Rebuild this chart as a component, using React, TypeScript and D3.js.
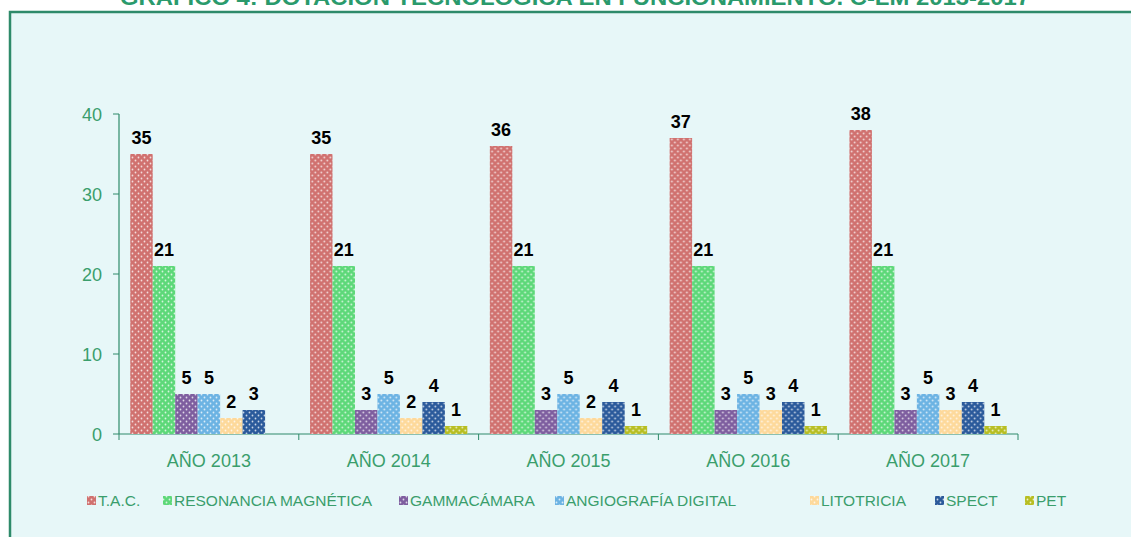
import React from "react";
import * as d3 from "d3";

const years = ["AÑO 2013", "AÑO 2014", "AÑO 2015", "AÑO 2016", "AÑO 2017"];
const seriesNames = ["T.A.C.", "RESONANCIA MAGNÉTICA", "GAMMACÁMARA", "ANGIOGRAFÍA DIGITAL", "LITOTRICIA", "SPECT", "PET"];
const tac = [35, 35, 36, 37, 38];
const resonancia = [21, 21, 21, 21, 21];
const gammacamara = [5, 3, 3, 3, 3];
const angiografia = [5, 5, 5, 5, 5];
const litotricia = [2, 2, 2, 3, 3];
const spect = [3, 4, 4, 4, 4];
const pet: (number | null)[] = [null, 1, 1, 1, 1];
const yTicks = [0, 10, 20, 30, 40];
const title = "GRÁFICO 4: DOTACIÓN TECNOLÓGICA EN FUNCIONAMIENTO. C-LM 2013-2017";

const seriesValues = [tac, resonancia, gammacamara, angiografia, litotricia, spect, pet];
const colors = ["#D0716F", "#5DD879", "#7E5E9F", "#6CB3E3", "#FDD99B", "#2B5A9B", "#B7BE22"];
const legendX = [87, 163, 399, 555, 810, 935, 1025];

const GREEN = "#3A9E6C";
const AXIS = "#2E8A6A";

export default function App() {
  const x0 = d3.scaleBand<string>().domain(years).range([119, 1018]).paddingInner(0).paddingOuter(0);
  const x1 = d3.scaleBand<string>().domain(seriesNames).range([0, x0.bandwidth()]).paddingInner(0).paddingOuter(0.5);
  const y = d3.scaleLinear().domain([0, 40]).range([434, 114]);
  const boundaries = years.map((yr) => x0(yr)!).concat([x0.range()[1]]);

  return (
    <svg width={1131} height={537} style={{ position: "absolute", left: 0, top: 0 }} fontFamily="Liberation Sans, Arial, sans-serif">
      <defs>
        {colors.map((c, i) => (
          <pattern key={i} id={`pat${i}`} width={6} height={6} patternUnits="userSpaceOnUse">
            <rect width={6} height={6} fill={c} />
            <circle cx={1.5} cy={1.5} r={0.9} fill="#fff" opacity={0.75} />
            <circle cx={4.5} cy={4.5} r={0.9} fill="#fff" opacity={0.75} />
          </pattern>
        ))}
      </defs>
      <rect x={0} y={0} width={1131} height={537} fill="#fff" />
      <rect x={10} y={12} width={1200} height={600} fill="#E7F7F8" stroke={AXIS} strokeWidth={2.5} />
      <text x={575} y={5} textAnchor="middle" fontWeight="bold" fontSize={22} fill="#2A9A6C" textLength={910} lengthAdjust="spacingAndGlyphs">
        {title}
      </text>

      {/* Y axis */}
      <line x1={119} x2={119} y1={y(40)} y2={y(0)} stroke={AXIS} strokeWidth={1.2} />
      {yTicks.map((t) => (
        <g key={t}>
          <line x1={113} x2={119} y1={y(t)} y2={y(t)} stroke={AXIS} strokeWidth={1} />
          <text x={102} y={y(t) + 6.5} textAnchor="end" fontSize={18} fill={GREEN}>{t}</text>
        </g>
      ))}

      {/* X axis */}
      <line x1={119} x2={1018} y1={y(0)} y2={y(0)} stroke={AXIS} strokeWidth={1.2} />
      {boundaries.map((b, i) => (
        <line key={i} x1={b} x2={b} y1={y(0)} y2={y(0) + 6} stroke={AXIS} strokeWidth={1} />
      ))}
      {years.map((yr) => (
        <text key={yr} x={x0(yr)! + x0.bandwidth() / 2} y={467} textAnchor="middle" fontSize={18} fill={GREEN}>{yr}</text>
      ))}

      {/* Bars */}
      {years.map((yr, yi) => (
        <g key={yr} transform={`translate(${x0(yr)},0)`}>
          {seriesNames.map((s, si) => {
            const v = seriesValues[si][yi];
            if (v == null) return null;
            const bx = x1(s)!;
            return (
              <g key={s}>
                <rect x={bx} y={y(v)} width={x1.bandwidth()} height={y(0) - y(v)} fill={`url(#pat${si})`} />
                <text x={bx + x1.bandwidth() / 2} y={y(v) - 10} textAnchor="middle" fontSize={18} fontWeight="bold" fill="#000">{v}</text>
              </g>
            );
          })}
        </g>
      ))}

      {/* Legend */}
      {seriesNames.map((s, i) => (
        <g key={s}>
          <rect x={legendX[i]} y={496} width={9} height={9} fill={`url(#pat${i})`} />
          <text x={legendX[i] + 11} y={506} fontSize={15.5} fill={GREEN}>{s}</text>
        </g>
      ))}
    </svg>
  );
}
